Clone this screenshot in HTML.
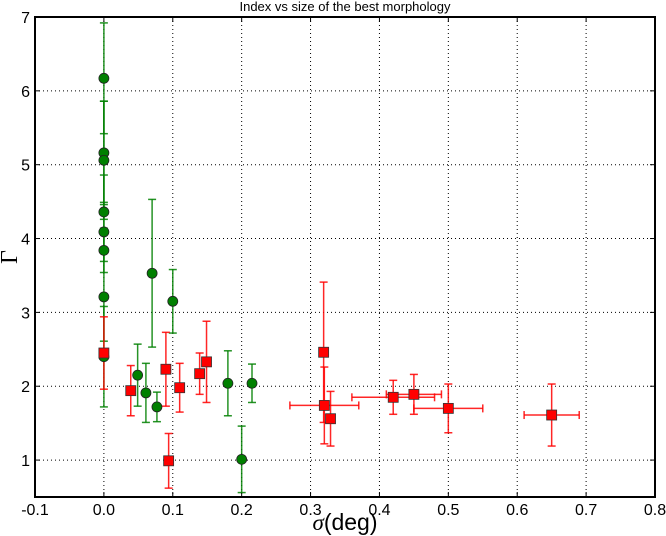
<!DOCTYPE html>
<html><head><meta charset="utf-8"><style>
body{margin:0;background:#fff}
svg{display:block;font-family:"Liberation Sans","DejaVu Sans",sans-serif}
</style></head><body>
<svg id="chart" width="666" height="536" viewBox="0 0 666 536" xmlns="http://www.w3.org/2000/svg">
<rect width="666" height="536" fill="#fff"/>
<text x="345" y="11" font-size="13" text-anchor="middle">Index vs size of the best morphology</text>
<g id="grid"></g>
<g id="ticks"></g>
<g id="series"></g>
<rect x="35" y="17" width="620" height="480" fill="none" stroke="#000" stroke-width="2"/>
<text x="345" y="530" font-size="23" text-anchor="middle"><tspan font-family="Liberation Serif,serif" font-style="italic">σ</tspan>(deg)</text>
<text x="0" y="0" font-size="24" font-family="Liberation Serif,serif" text-anchor="middle" transform="translate(17,257) rotate(-90)">Γ</text>
</svg>
<script>
const xTicks=[-0.1,0.0,0.1,0.2,0.3,0.4,0.5,0.6,0.7,0.8];
const yTicks=[1,2,3,4,5,6,7];
const greenX=[0,0,0,0,0,0,0,0,0.049,0.061,0.077,0.07,0.1,0.18,0.215,0.2];
const greenY=[6.17,5.16,5.06,4.36,4.09,3.84,3.21,2.40,2.15,1.91,1.72,3.53,3.15,2.04,2.04,1.01];
const greenYErr=[0.75,0.7,0.8,0.5,0.4,0.3,0.6,0.68,0.42,0.4,0.2,1.0,0.43,0.44,0.26,0.45];
const redX=[0,0.039,0.09,0.094,0.11,0.139,0.149,0.319,0.32,0.329,0.42,0.45,0.5,0.65];
const redY=[2.45,1.94,2.23,0.99,1.98,2.17,2.33,2.46,1.74,1.56,1.85,1.89,1.70,1.61];
const redYErr=[0.49,0.34,0.5,0.37,0.33,0.28,0.55,0.95,0.52,0.37,0.23,0.27,0.33,0.42];
const redXErr=[0,0,0,0,0,0,0,0,0.05,0,0.06,0.04,0.05,0.04];
const X0=35,X1=655,Y0=497,Y1=17;
const sx=v=>X0+(v+0.1)/0.9*(X1-X0);
const sy=v=>Y0-(v-0.5)/6.5*(Y0-Y1);
const NS="http://www.w3.org/2000/svg";
function mk(tag,attrs,parent){const e=document.createElementNS(NS,tag);for(const k in attrs)e.setAttribute(k,attrs[k]);parent.appendChild(e);return e;}
const grid=document.getElementById('grid'),ticks=document.getElementById('ticks'),ser=document.getElementById('series');
xTicks.forEach(t=>{const x=sx(t);
 const g=mk('line',{x1:x,x2:x,y1:Y1,y2:Y0,stroke:'#000','stroke-dasharray':'1,3','stroke-width':1},grid);
 
 
 mk('line',{x1:x,x2:x,y1:Y0,y2:Y0-5,stroke:'#000'},ticks);
 mk('line',{x1:x,x2:x,y1:Y1,y2:Y1+5,stroke:'#000'},ticks);
 const l=mk('text',{x:x,y:515,'font-size':16,'text-anchor':'middle'},ticks);l.textContent=t.toFixed(1);
 
 
});
yTicks.forEach(t=>{const y=sy(t);
 const g=mk('line',{x1:X0,x2:X1,y1:y,y2:y,stroke:'#000','stroke-dasharray':'1,3','stroke-width':1},grid);
 
 
 mk('line',{x1:X0,x2:X0+5,y1:y,y2:y,stroke:'#000'},ticks);
 mk('line',{x1:X1,x2:X1-5,y1:y,y2:y,stroke:'#000'},ticks);
 const l=mk('text',{x:30,y:y+6,'font-size':16,'text-anchor':'end'},ticks);l.textContent=t;
 
 
});
function errbar(x,y,ex,ey,col,parent){
 const g=mk('g',{stroke:col,'stroke-width':1.5,'stroke-opacity':0.85},parent);
 mk('line',{x1:sx(x),x2:sx(x),y1:sy(y-ey),y2:sy(y+ey)},g);
 [y-ey,y+ey].forEach(v=>mk('line',{x1:sx(x)-4,x2:sx(x)+4,y1:sy(v),y2:sy(v)},g));
 if(ex>0){mk('line',{x1:sx(x-ex),x2:sx(x+ex),y1:sy(y),y2:sy(y)},g);
  [x-ex,x+ex].forEach(v=>mk('line',{x1:sx(v),x2:sx(v),y1:sy(y)-4,y2:sy(y)+4},g));}
 return g;
}
greenX.forEach((x,i)=>{
 const e=errbar(x,greenY[i],0,greenYErr[i],'#008000',ser);
 
 
});
redX.forEach((x,i)=>{
 const e=errbar(x,redY[i],redXErr[i],redYErr[i],'#ff0000',ser);
 
 
});
greenX.forEach((x,i)=>{
 const c=mk('circle',{cx:sx(x),cy:sy(greenY[i]),r:5,fill:'#008000',stroke:'#222','stroke-width':0.8},ser);
 
 
});
redX.forEach((x,i)=>{
 const r=mk('rect',{x:sx(x)-5,y:sy(redY[i])-5,width:10,height:10,fill:'#ff0000',stroke:'#333','stroke-width':0.8},ser);
 
 
});
</script>
</body></html>
